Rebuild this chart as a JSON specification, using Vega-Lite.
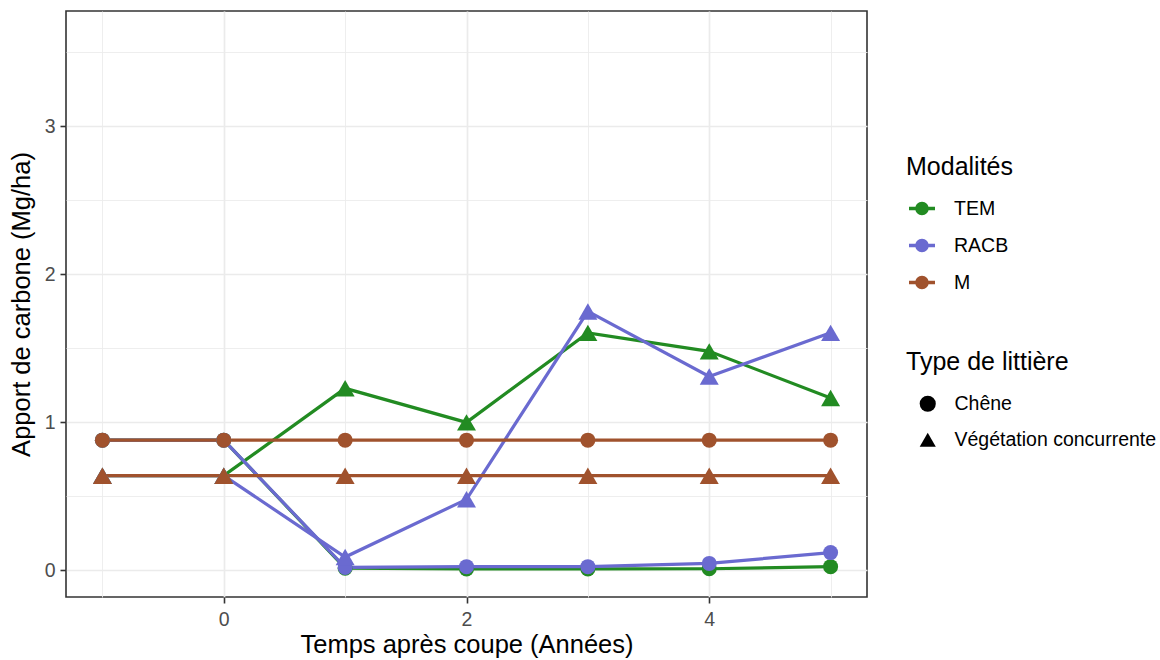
{
  "$schema": "https://vega.github.io/schema/vega-lite/v6.json",
  "width": 801,
  "height": 586,
  "autosize": {"type": "none"},
  "padding": {"left": 66, "top": 11, "right": 293, "bottom": 63},
  "background": "white",
  "config": {
    "font": "Liberation Sans",
    "view": {"stroke": "#333333", "strokeWidth": 1.6},
    "axis": {
      "domain": false,
      "labelFont": "Liberation Sans",
      "labelFontSize": 19.5,
      "labelColor": "#4D4D4D",
      "titleFont": "Liberation Sans",
      "titleFontSize": 25.5,
      "titleFontWeight": "normal",
      "titleColor": "#000000",
      "tickColor": "#333333",
      "tickWidth": 1.6,
      "tickSize": 6,
      "gridColor": "#EBEBEB",
      "labelOverlap": false,
      "labelFlush": false
    },
    "legend": {
      "labelFont": "Liberation Sans",
      "labelFontSize": 19.5,
      "labelColor": "#000000",
      "titleFont": "Liberation Sans",
      "titleFontSize": 25,
      "titleFontWeight": "normal",
      "titleColor": "#000000",
      "padding": 0,
      "labelLimit": 0,
      "symbolBaseFillColor": "black",
      "symbolBaseStrokeColor": "black"
    }
  },
  "data": {
    "values": [
      {"modalite": "TEM", "litiere": "Chêne", "annee": -1, "apport": 0.88},
      {"modalite": "TEM", "litiere": "Chêne", "annee": 0, "apport": 0.88},
      {"modalite": "TEM", "litiere": "Chêne", "annee": 1, "apport": 0.015},
      {"modalite": "TEM", "litiere": "Chêne", "annee": 2, "apport": 0.01},
      {"modalite": "TEM", "litiere": "Chêne", "annee": 3, "apport": 0.01},
      {"modalite": "TEM", "litiere": "Chêne", "annee": 4, "apport": 0.011},
      {"modalite": "TEM", "litiere": "Chêne", "annee": 5, "apport": 0.025},
      {"modalite": "TEM", "litiere": "Végétation concurrente", "annee": -1, "apport": 0.64},
      {"modalite": "TEM", "litiere": "Végétation concurrente", "annee": 0, "apport": 0.64},
      {"modalite": "TEM", "litiere": "Végétation concurrente", "annee": 1, "apport": 1.23},
      {"modalite": "TEM", "litiere": "Végétation concurrente", "annee": 2, "apport": 1.0},
      {"modalite": "TEM", "litiere": "Végétation concurrente", "annee": 3, "apport": 1.605},
      {"modalite": "TEM", "litiere": "Végétation concurrente", "annee": 4, "apport": 1.48},
      {"modalite": "TEM", "litiere": "Végétation concurrente", "annee": 5, "apport": 1.165},
      {"modalite": "RACB", "litiere": "Chêne", "annee": -1, "apport": 0.88},
      {"modalite": "RACB", "litiere": "Chêne", "annee": 0, "apport": 0.88},
      {"modalite": "RACB", "litiere": "Chêne", "annee": 1, "apport": 0.02},
      {"modalite": "RACB", "litiere": "Chêne", "annee": 2, "apport": 0.025},
      {"modalite": "RACB", "litiere": "Chêne", "annee": 3, "apport": 0.025},
      {"modalite": "RACB", "litiere": "Chêne", "annee": 4, "apport": 0.047},
      {"modalite": "RACB", "litiere": "Chêne", "annee": 5, "apport": 0.12},
      {"modalite": "RACB", "litiere": "Végétation concurrente", "annee": -1, "apport": 0.64},
      {"modalite": "RACB", "litiere": "Végétation concurrente", "annee": 0, "apport": 0.64},
      {"modalite": "RACB", "litiere": "Végétation concurrente", "annee": 1, "apport": 0.09},
      {"modalite": "RACB", "litiere": "Végétation concurrente", "annee": 2, "apport": 0.48},
      {"modalite": "RACB", "litiere": "Végétation concurrente", "annee": 3, "apport": 1.75},
      {"modalite": "RACB", "litiere": "Végétation concurrente", "annee": 4, "apport": 1.31},
      {"modalite": "RACB", "litiere": "Végétation concurrente", "annee": 5, "apport": 1.605},
      {"modalite": "M", "litiere": "Chêne", "annee": -1, "apport": 0.88},
      {"modalite": "M", "litiere": "Chêne", "annee": 0, "apport": 0.88},
      {"modalite": "M", "litiere": "Chêne", "annee": 1, "apport": 0.88},
      {"modalite": "M", "litiere": "Chêne", "annee": 2, "apport": 0.88},
      {"modalite": "M", "litiere": "Chêne", "annee": 3, "apport": 0.88},
      {"modalite": "M", "litiere": "Chêne", "annee": 4, "apport": 0.88},
      {"modalite": "M", "litiere": "Chêne", "annee": 5, "apport": 0.88},
      {"modalite": "M", "litiere": "Végétation concurrente", "annee": -1, "apport": 0.64},
      {"modalite": "M", "litiere": "Végétation concurrente", "annee": 0, "apport": 0.64},
      {"modalite": "M", "litiere": "Végétation concurrente", "annee": 1, "apport": 0.64},
      {"modalite": "M", "litiere": "Végétation concurrente", "annee": 2, "apport": 0.64},
      {"modalite": "M", "litiere": "Végétation concurrente", "annee": 3, "apport": 0.64},
      {"modalite": "M", "litiere": "Végétation concurrente", "annee": 4, "apport": 0.64},
      {"modalite": "M", "litiere": "Végétation concurrente", "annee": 5, "apport": 0.64}
    ]
  },
  "encoding": {
    "x": {
      "field": "annee",
      "type": "quantitative",
      "scale": {"domain": [-1.3, 5.3], "nice": false, "zero": false},
      "axis": {
        "title": "Temps après coupe (Années)",
        "values": [-1, 0, 1, 2, 3, 4, 5],
        "labelExpr": "datum.value % 2 === 0 ? format(datum.value, 'd') : ''",
        "labelPadding": 7,
        "titlePadding": 4,
        "tickOpacity": {"condition": {"test": "datum.value % 2 === 0", "value": 1}, "value": 0},
        "gridWidth": {"condition": {"test": "datum.value % 2 === 0", "value": 1.7}, "value": 0.85}
      }
    },
    "y": {
      "field": "apport",
      "type": "quantitative",
      "scale": {"domain": [-0.18, 3.78], "nice": false, "zero": false},
      "axis": {
        "title": "Apport de carbone (Mg/ha)",
        "values": [0, 0.5, 1, 1.5, 2, 2.5, 3, 3.5],
        "labelExpr": "datum.value % 1 === 0 ? format(datum.value, 'd') : ''",
        "labelPadding": 5,
        "titlePadding": 10,
        "tickOpacity": {"condition": {"test": "datum.value % 1 === 0", "value": 1}, "value": 0},
        "gridWidth": {"condition": {"test": "datum.value % 1 === 0", "value": 1.7}, "value": 0.85}
      }
    },
    "color": {
      "field": "modalite",
      "type": "nominal",
      "scale": {"domain": ["TEM", "RACB", "M"], "range": ["#228B22", "#6A6AD0", "#A0522D"]},
      "legend": {
        "title": "Modalités",
        "orient": "none",
        "legendX": 840,
        "legendY": 143.5,
        "symbolType": "M-1,-0.13H-0.5V0.13H-1Z M0.5,-0.13H1V0.13H0.5Z M0.52,0A0.52,0.52,0,1,1,-0.52,0A0.52,0.52,0,1,1,0.52,0Z",
        "symbolSize": 676,
        "symbolStrokeWidth": 0,
        "symbolOpacity": 1,
        "symbolOffset": 3,
        "labelOffset": 19,
        "rowPadding": 14,
        "titlePadding": 16
      }
    }
  },
  "layer": [
    {
      "transform": [{"filter": "datum.modalite === 'TEM'"}],
      "mark": {"type": "line", "strokeWidth": 3.2},
      "encoding": {"detail": {"field": "litiere", "type": "nominal"}}
    },
    {
      "transform": [{"filter": "datum.modalite === 'RACB'"}],
      "mark": {"type": "line", "strokeWidth": 3.2},
      "encoding": {"detail": {"field": "litiere", "type": "nominal"}}
    },
    {
      "transform": [{"filter": "datum.modalite === 'M'"}],
      "mark": {"type": "line", "strokeWidth": 3.2},
      "encoding": {"detail": {"field": "litiere", "type": "nominal"}}
    },
    {
      "transform": [{"filter": "datum.litiere === 'Chêne'"}],
      "mark": {"type": "point", "filled": true, "opacity": 1, "size": 225},
      "encoding": {
        "shape": {
          "field": "litiere",
          "type": "nominal",
          "scale": {"domain": ["Chêne", "Végétation concurrente"], "range": ["circle", "triangle-up"]},
          "legend": {
            "title": "Type de littière",
            "orient": "none",
            "legendX": 840,
            "legendY": 339,
            "symbolSize": 260,
            "symbolFillColor": "black",
            "symbolStrokeColor": "black",
            "symbolStrokeWidth": 0,
            "symbolOpacity": 1,
            "symbolOffset": 12,
            "labelOffset": 17,
            "rowPadding": 15,
            "titlePadding": 19
          }
        }
      }
    },
    {
      "transform": [{"filter": "datum.litiere !== 'Chêne'"}],
      "mark": {"type": "point", "filled": true, "opacity": 1, "size": 361},
      "encoding": {
        "shape": {
          "field": "litiere",
          "type": "nominal",
          "scale": {"domain": ["Chêne", "Végétation concurrente"], "range": ["circle", "triangle-up"]},
          "legend": {
            "title": "Type de littière",
            "orient": "none",
            "legendX": 840,
            "legendY": 339,
            "symbolSize": 260,
            "symbolFillColor": "black",
            "symbolStrokeColor": "black",
            "symbolStrokeWidth": 0,
            "symbolOpacity": 1,
            "symbolOffset": 12,
            "labelOffset": 17,
            "rowPadding": 15,
            "titlePadding": 19
          }
        }
      }
    }
  ]
}
